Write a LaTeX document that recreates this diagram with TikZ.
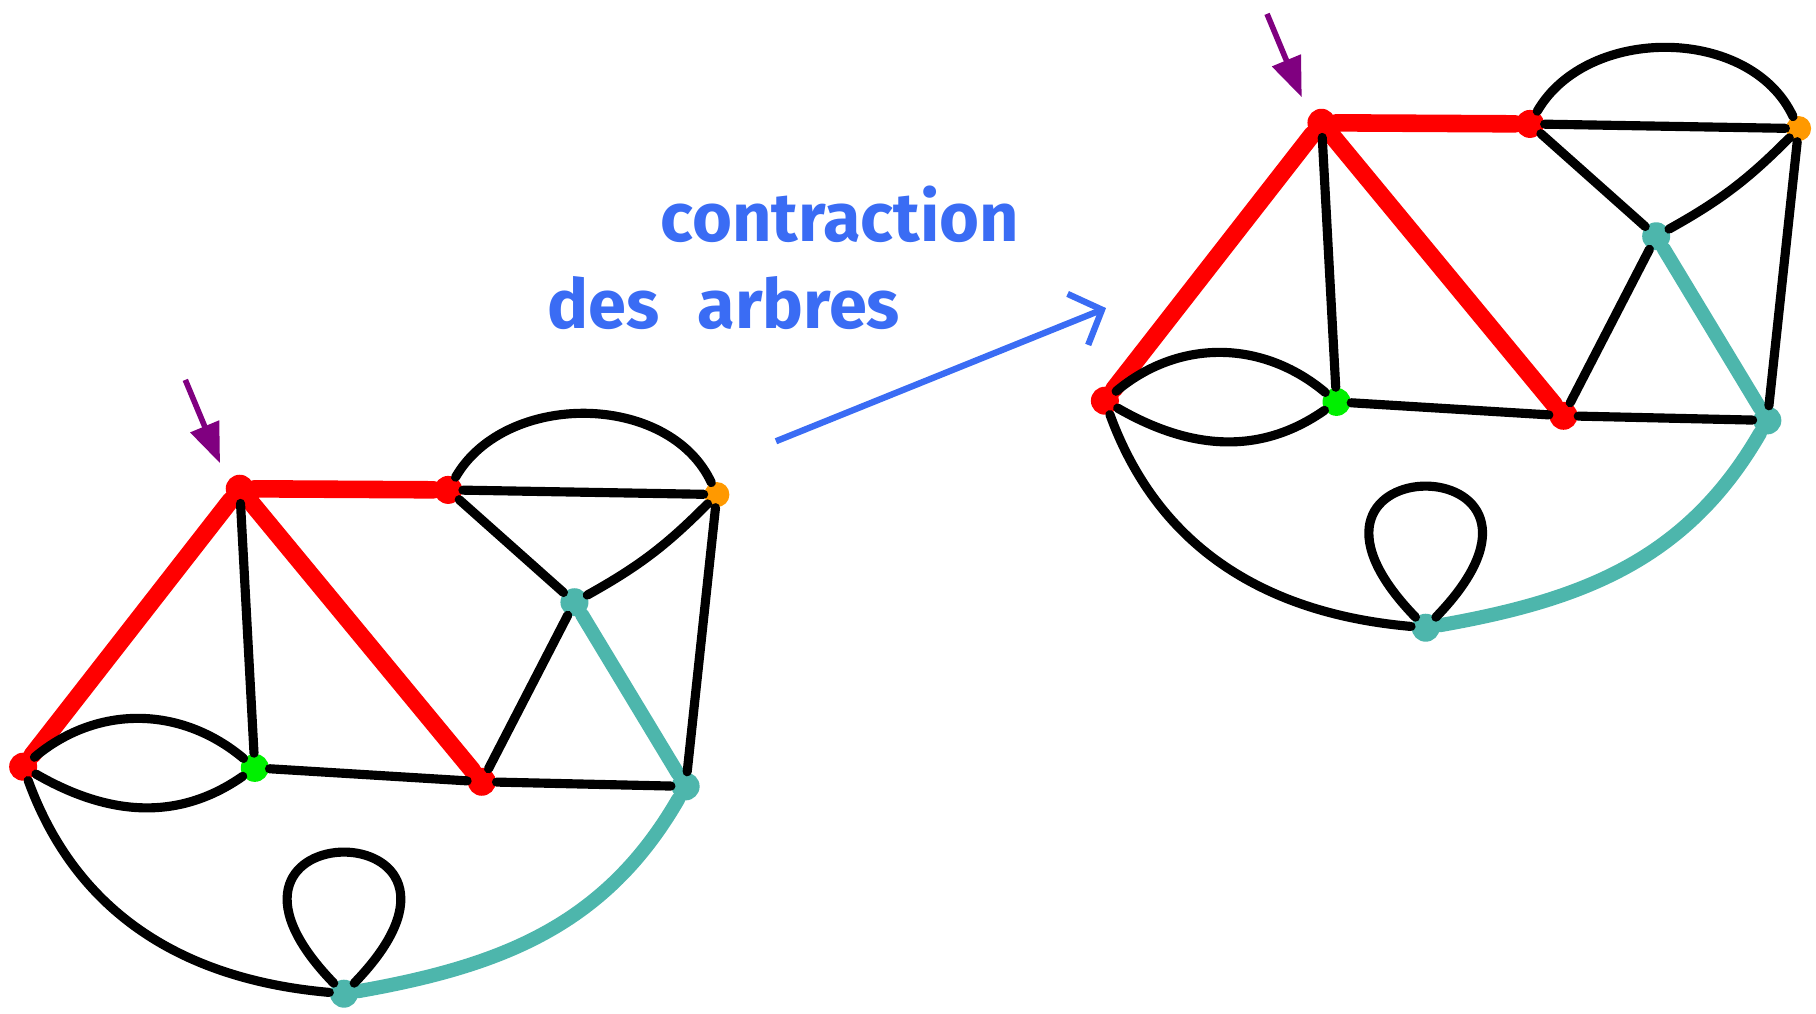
\documentclass[tikz,border=0pt]{standalone}
\usepackage{fontspec}
\setsansfont{Fira Sans}
\usetikzlibrary{arrows.meta}
\definecolor{treered}{RGB}{255,0,0}
\definecolor{treeteal}{RGB}{77,182,172}
\definecolor{rootgreen}{RGB}{0,240,0}
\definecolor{vorange}{RGB}{255,153,0}
\definecolor{pointpurple}{RGB}{128,0,128}
\definecolor{inkblue}{RGB}{58,108,244}
\begin{document}
\begin{tikzpicture}[x=0.1158mm,y=0.1158mm,
 vertex/.style={circle,inner sep=0pt,minimum size=2.8mm},
 redv/.style={vertex,fill=treered},
 tealv/.style={vertex,fill=treeteal},
 greenv/.style={vertex,fill=rootgreen},
 orangev/.style={vertex,fill=vorange,minimum size=2.5mm},
 edge/.style={line width=2.6pt,line cap=round},
 redtree/.style={line width=5pt,draw=treered,line cap=round},
 tealtree/.style={line width=4pt,draw=treeteal,line cap=round},
 pointer/.style={line width=1.6pt,draw=pointpurple,-{Triangle[length=4mm,width=3mm]}},
 label/.style={font=\sffamily\bfseries\fontsize{19.5}{24}\selectfont,text=inkblue,inner sep=0pt}]
\useasboundingbox (0,0) rectangle (1568,875);
\foreach \g/\dx/\dy in {a/0/0,b/934/316}{
\begin{scope}[shift={(\dx,\dy)}]
% vertices
\node[redv] (\g R) at (207,453) {};
\node[redv] (\g Rt) at (387,452) {};
\node[orangev] (\g O) at (619,448) {};
\node[tealv] (\g Tm) at (496,355) {};
\node[redv] (\g L) at (20,213) {};
\node[greenv] (\g G) at (220,212) {};
\node[redv] (\g B) at (416,200) {};
\node[tealv] (\g Tr) at (592,196) {};
\node[tealv] (\g Tb) at (297,17) {};
\coordinate (\g tail) at (160,547);
\coordinate (\g tip) at (190,475);
% spanning trees
\draw[redtree] (\g R) -- (\g Rt) (\g R) -- (\g L) (\g R) -- (\g B);
\draw[tealtree] (\g Tm) -- (\g Tr) (\g Tb) to[out=10,in=-120] (\g Tr);
% other edges
\draw[edge] (\g R) -- (\g G) (\g Rt) -- (\g O) (\g Rt) to[out=60,in=115] (\g O)
 (\g Rt) -- (\g Tm) (\g O) to[bend left=8] (\g Tm) (\g O) -- (\g Tr)
 (\g Tm) -- (\g B) (\g L) to[out=40,in=140] (\g G) (\g L) to[out=-30,in=-145] (\g G)
 (\g G) -- (\g B) (\g B) -- (\g Tr) (\g L) to[out=-70,in=175] (\g Tb)
 (\g Tb) .. controls +(-155,160) and +(155,160) .. (\g Tb);
\draw[pointer] (\g tail) -- (\g tip);
\end{scope}}
% the arrow between both pictures
\node[label] (word1) at (725,690) {contraction};
\node[label] (word2) at (625,613) {des\hspace{0.55em}arbres};
\coordinate (from) at (670,494);
\coordinate (to) at (955,609);
\draw[line width=1.8pt,draw=inkblue,-{Straight Barb[length=2.6mm,width=5.5mm]}] (from) -- (to);
\end{tikzpicture}
\end{document}
